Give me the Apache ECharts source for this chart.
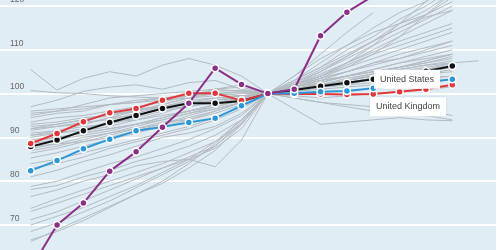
<!DOCTYPE html>
<html>
<head>
<meta charset="utf-8">
<script src="https://cdn.jsdelivr.net/npm/echarts@6/dist/echarts.min.js"></script>
<style>
html, body { margin: 0; padding: 0; background: #fff; }
#index_chart_content { width: 500px; height: 250px; }
</style>
</head>
<body>
<div id="index_chart_content"></div>
<script>
// period index on the x axis (base period = 9)
var periods = [0, 1, 2, 3, 4, 5, 6, 7, 8, 9, 10, 11, 12, 13, 14, 15, 16, 17];
var y_min = 60, y_max = 130, y_interval = 10;
var label_names = ["United States", "United Kingdom"];

// highlighted series
var red_values    = [88.6, 90.9, 93.6, 95.6, 96.6, 98.5, 100.1, 100.1, 98.4, 100, 99.9, 99.9, 99.8, 99.9, 100.4, 101.0, 102.0];
var black_values  = [87.9, 89.4, 91.5, 93.4, 95.0, 96.6, 97.8, 97.8, 98.3, 100, 100.8, 101.7, 102.5, 103.3, 104.2, 105.1, 106.3];
var blue_values   = [82.4, 84.7, 87.4, 89.6, 91.5, 92.4, 93.4, 94.4, 97.2, 100, 100.1, 100.4, 100.6, 101.2, 101.9, 102.6, 103.3];
var purple_values = [60.0, 70.0, 75.0, 82.3, 86.7, 92.3, 97.8, 105.8, 102.1, 100, 101.0, 113.2, 118.6, 122.3];

// other countries (grey)
var grey_values = [
    [105.5, 100.8, 103.5, 105, 104, 106.5, 108, 106.5, 104, 100, 101.5, 103, 104, 105, 106, 107, 108],
    [100.7, 100.2, 100, 99.5, 99.2, 99, 99.5, 100.5, 100.8, 100, 102, 104, 107, 110, 113, 116, 119],
    [97, 98.5, 100.5, 101.5, 102, 101, 102.5, 103, 101, 100, 99, 98, 97, 96, 95.5, 95, 94],
    [95.5, 96, 97.5, 99, 99.5, 100, 100.5, 101, 100.5, 100, 101, 102.5, 104, 105.5, 107, 108, 109],
    [94.5, 95.5, 96, 97.5, 98.5, 99, 99.5, 100, 100.2, 100, 100.5, 101.5, 102, 103.5, 104.5, 105, 106],
    [93.5, 94.5, 95, 96, 97, 98, 99.5, 101, 101.5, 100, 102, 104, 106.5, 109, 111, 113, 115],
    [93, 93.5, 94.5, 95, 96.5, 97, 98, 98.5, 99, 100, 101, 102, 103, 104, 105.5, 106.5, 107.5],
    [92.5, 93, 94, 95.5, 96, 97.5, 99, 100, 99.5, 100, 100.8, 101.5, 102.5, 103.5, 104, 104.5, 105],
    [92, 92.5, 93.5, 94, 95.5, 97, 98.5, 99, 99.5, 100, 102.5, 105, 108, 111, 114, 117, 120],
    [91.6, 92.5, 93, 94.5, 95, 96.5, 97, 98.5, 99, 100, 101.5, 103, 104, 105, 106, 107, 108.5],
    [91, 91.5, 92.5, 93, 94.5, 96, 97, 98, 99, 100, 100.5, 101, 101.5, 102, 103, 103.5, 104],
    [90.5, 91, 92, 93.5, 94, 95.5, 97.5, 98.5, 99.5, 100, 103, 106, 109, 112, 116, 119, 123],
    [90, 91, 91.5, 92.5, 94, 95, 96, 97.5, 98.5, 100, 102, 103.5, 105, 107, 109, 110.5, 112],
    [89.5, 90, 91, 92, 93, 94.5, 96, 97, 98.5, 100, 99.5, 99, 99.5, 100, 100.5, 101, 101.5],
    [88.5, 89.5, 90.5, 91.5, 93, 94, 95.5, 96.5, 98, 100, 101, 102, 103.5, 104.5, 105.5, 106.5, 107],
    [88, 88.5, 90, 91, 92, 93.5, 94, 96, 98, 100, 104, 108, 111, 114, 116, 118, 121],
    [87.5, 88.5, 89, 90.5, 92, 93, 95, 96.5, 98, 100, 101.5, 102.5, 104, 105, 106, 107.5, 109],
    [86.4, 87.5, 89, 90, 91.5, 93, 94.5, 96, 98, 100, 102, 104.5, 107, 109.5, 112, 114, 116],
    [85.3, 86.5, 88, 89.5, 91, 92.5, 94, 95.5, 97.5, 100, 101, 102, 102.5, 103.5, 104, 104.5, 105.5],
    [83, 84, 85.5, 87.5, 89, 90.5, 92, 94, 96.5, 100, 100.5, 101.5, 103, 104, 105, 106, 107],
    [81, 82.5, 84.5, 86, 88, 90, 91, 92.5, 95.5, 100, 103, 106, 110, 113, 117, 120, 124],
    [78.8, 80, 82, 84, 85.5, 87.5, 89.5, 92, 95, 100, 101, 102.5, 104, 105.5, 107, 108.5, 110],
    [78.1, 79, 81, 82.5, 84.5, 86, 88, 90.5, 94, 100, 99, 98, 97.5, 97, 96.5, 96, 95],
    [76.5, 78, 80, 81.5, 83.5, 84.5, 85, 83.3, 89.4, 100, 101.5, 103, 105, 107, 108, 110, 112],
    [73.8, 76, 78, 80, 82, 84, 86.5, 89, 93, 100, 102, 105, 108.5, 112, 115, 118, 122],
    [73.1, 75, 77, 79, 81, 83, 85, 87.5, 92, 100, 101.5, 103.5, 105, 106.5, 108, 109.5, 111],
    [71.2, 73, 75.5, 78, 80.5, 83, 85.5, 88, 93, 100, 100.5, 101.5, 102.5, 103.5, 104.5, 105.5, 106.5],
    [70, 72, 74, 76.5, 79, 82, 85, 89, 94, 100, 103, 107, 111, 115, 118.5, 121, 125],
    [68.5, 70.5, 73, 75.5, 78.5, 81.5, 84.5, 88, 93.5, 100, 102, 104, 106, 108, 110, 112, 114],
    [66.6, 68.5, 71, 74, 77, 80, 84, 88.5, 94, 100, 101, 102, 103, 104.5, 106, 107.5, 109],
    [66.2, 68.9, 71.6, 74.3, 77, 79.5, 83, 87, 93, 100, 100.8, 101.5, 102, 102.5, 103, 103.5, 104],
    [84, 85, 86.5, 88, 89.5, 91, 92.5, 94.5, 97, 100, 96.5, 93, 93.5, 94, 94.5, 94, 93.8],
    [95, 96, 96.5, 97.5, 98, 99, 99.5, 100, 100.5, 100, 104, 109, 114, 118.5],
    [96, 96.5, 97, 97.5, 98, 98.5, 99, 99.5, 100, 100, 102, 104, 107, 111, 116, 121, 126],
    [89, 90, 91, 92, 93, 94.5, 96, 97.5, 99, 100, 101.5, 103.5, 106, 109, 113, 118, 123],
    [92, 93, 94, 95, 96, 97, 98, 99, 99.5, 100, 100.5, 101.5, 102.5, 103.5, 104.5, 105.5, 107, 107.5],
    [87, 88, 89.5, 91, 92.5, 94, 95.5, 97, 98.5, 100, 102.5, 105.5, 108.5, 112, 115, 117.5, 119],
    [90.5, 91.5, 93, 94.5, 96, 97.5, 99, 101, 102, 100, 101, 102, 103, 104, 105, 105.5, 106]
];

var main_font = "Liberation Sans, Arial, sans-serif";

// values -> [x, y] pairs
function to_points(values) {
    var points = [];
    for (var i = 0; i < values.length; i++) {
        points.push([periods[i], values[i]]);
    }
    return points;
}

// put a white name box on the last point of a series
function with_end_label(points, text, offset, distance) {
    var last = points[points.length - 1];
    points[points.length - 1] = {
        value: last,
        label: {
            show: true,
            position: "left",
            distance: distance,
            offset: offset,
            formatter: text,
            color: "#444",
            fontFamily: main_font,
            fontSize: 9,
            backgroundColor: "#fff",
            padding: [5, 6],
            shadowBlur: 3,
            shadowColor: "rgba(0,0,0,0.15)"
        }
    };
    return points;
}

function highlight_series(name, color, points, z) {
    return {
        name: name,
        type: "line",
        data: points,
        z: z,
        symbol: "circle",
        symbolSize: 7,
        lineStyle: { color: color, width: 2 },
        itemStyle: { color: color, borderColor: "#fff", borderWidth: 1.5 },
        emphasis: { disabled: true },
        animation: false
    };
}

var series_list = [];
for (var g = 0; g < grey_values.length; g++) {
    series_list.push({
        type: "line",
        data: to_points(grey_values[g]),
        symbol: "none",
        silent: true,
        z: 1,
        lineStyle: { color: "#b3bbc1", width: 1 },
        animation: false
    });
}
// labelled series sit above the black line so their boxes cover it
series_list.push(highlight_series("black", "#111111", to_points(black_values), 3));
series_list.push(highlight_series("red", "#e3363a", with_end_label(to_points(red_values), label_names[1], [0, 22], 2), 4));
series_list.push(highlight_series("blue", "#2b97d8", with_end_label(to_points(blue_values), label_names[0], [0, 0], 8), 5));
series_list.push(highlight_series("purple", "#8c2f87", to_points(purple_values), 6));

var index_chart = echarts.init(document.getElementById("index_chart_content"));
index_chart.setOption({
    backgroundColor: "#fff",
    animation: false,
    grid: {
        left: 0, right: 4, top: -37.8, bottom: -18.8,
        containLabel: false,
        outerBoundsMode: "none",
        show: true,
        backgroundColor: "#e1edf5",
        borderWidth: 0
    },
    xAxis: {
        type: "value",
        min: -1.165,
        max: 17.658,
        show: false
    },
    yAxis: {
        type: "value",
        min: y_min,
        max: y_max,
        interval: y_interval,
        axisLine: { show: false },
        axisTick: { show: false },
        axisLabel: {
            inside: true,
            margin: 10,
            verticalAlign: "bottom",
            padding: [0, 0, 2, 0],
            color: "#666",
            fontFamily: main_font,
            fontSize: 8.5
        },
        splitLine: { lineStyle: { color: "#fff", width: 2 } }
    },
    series: series_list
});
</script>
</body>
</html>
